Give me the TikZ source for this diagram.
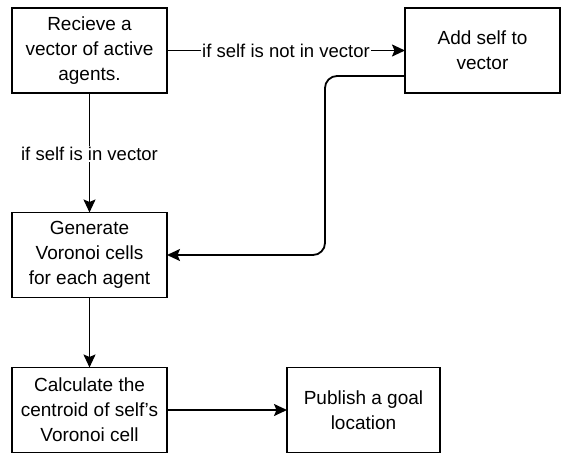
\documentclass[tikz,border=0pt]{standalone}
\usepackage{fontspec}
\setmainfont{Liberation Sans}
\usetikzlibrary{arrows.meta}
\begin{document}
\begin{tikzpicture}[x=1pt,y=-1pt,inner sep=0pt,outer sep=0pt,line width=1.8pt,
>={Stealth[length=13pt,width=12pt,inset=2.5pt]},
flowblock/.style={draw,rectangle,minimum width=155pt,minimum height=85pt,align=center,font=\fontsize{19}{25}\selectfont},
edgelabel/.style={fill=white,inner sep=1pt,font=\fontsize{18.5}{22}\selectfont}]
\useasboundingbox (0,0) rectangle (568,461);
\node[flowblock] (recv) at (89.5,50.5) {Recieve a\\vector of active\\agents.};
\node[flowblock] (addself) at (482.5,50.5) {Add self to\\vector};
\node[flowblock] (voronoi) at (89.5,255) {Generate\\Voronoi cells\\for each agent};
\node[flowblock] (centroid) at (89.5,410) {Calculate the\\centroid of self's\\Voronoi cell};
\node[flowblock,minimum width=153pt] (publish) at (363.5,410) {Publish a goal\\location};
\draw[->] (recv) -- node[edgelabel] {if self is not in vector} (addself);
\draw[->] (recv) -- node[edgelabel,pos=0.51] {if self is in vector} (voronoi);
\draw[->,rounded corners=12pt] ([yshift=-25.5pt]addself.west) -- ++(-80pt,0) |- (voronoi.east);
\draw[->] (voronoi) -- (centroid);
\draw[->] (centroid) -- (publish);
\end{tikzpicture}
\end{document}
